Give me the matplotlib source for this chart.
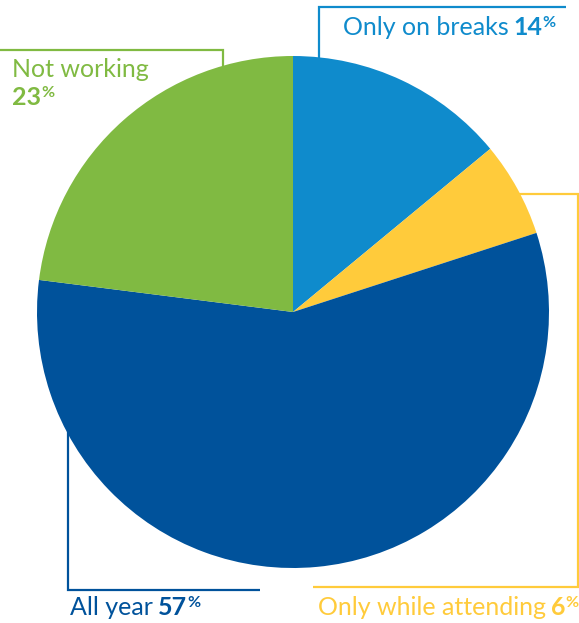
import matplotlib
matplotlib.use("Agg")
import matplotlib.pyplot as plt

# work status shares, clockwise from the top
labels = ["Only on breaks", "Only while attending", "All year", "Not working"]
values = [14, 6, 57, 23]
colors = ["#0F8BCC", "#FFCB3B", "#00529B", "#80BA42"]

W, H = 579, 623
fig = plt.figure(figsize=(W / 100, H / 100), dpi=100)
ax = fig.add_axes([0, 0, 1, 1])

cx, cy, r = 293, H - 312, 256
ax.pie(values, colors=colors, startangle=90, counterclock=False,
       center=(cx, cy), radius=r, frame=True,
       wedgeprops=dict(linewidth=0, zorder=3))
ax.set_xlim(0, W)
ax.set_ylim(0, H)
ax.set_aspect("equal")
ax.axis("off")

lw = 1.6
# leader brackets (in pixel coords, y measured from top)
def bracket(xs, ys, c):
    ax.plot(xs, [H - y for y in ys], color=c, lw=lw, zorder=1,
            solid_capstyle="butt", solid_joinstyle="miter")

bracket([319, 319, 566], [80, 7, 7], colors[0])
bracket([500, 578, 578, 313], [194, 194, 587, 587], colors[1])
bracket([68, 68, 260], [420, 590, 590], colors[2])
bracket([0, 223, 223], [50, 50, 80], colors[3])

fig.canvas.draw()
rend = fig.canvas.get_renderer()
fs = 18
font = "Lato"


def label(x, y, name, val, c):
    # name in regular weight, value bold, percent sign raised and small
    x0 = x
    if name:
        t = ax.text(x0, H - y, name, fontsize=fs, family=font, color=c,
                    va="baseline", ha="left")
        x0 = t.get_window_extent(rend).x1 + 5
    t = ax.text(x0, H - y, str(val), fontsize=fs, family=font, weight="bold",
                color=c, va="baseline", ha="left")
    x1 = t.get_window_extent(rend).x1
    ax.text(x1, H - y + 8, "%", fontsize=fs * 0.64, family=font,
            weight="bold", color=c, va="baseline", ha="left")


label(343, 35, labels[0], values[0], colors[0])
label(318, 615, labels[1], values[1], colors[1])
label(70, 615, labels[2], values[2], colors[2])
ax.text(12, H - 77, labels[3], fontsize=fs, family=font, color=colors[3],
        va="baseline", ha="left")
label(12, 105, "", values[3], colors[3])

fig.savefig("out.png", dpi=100)
